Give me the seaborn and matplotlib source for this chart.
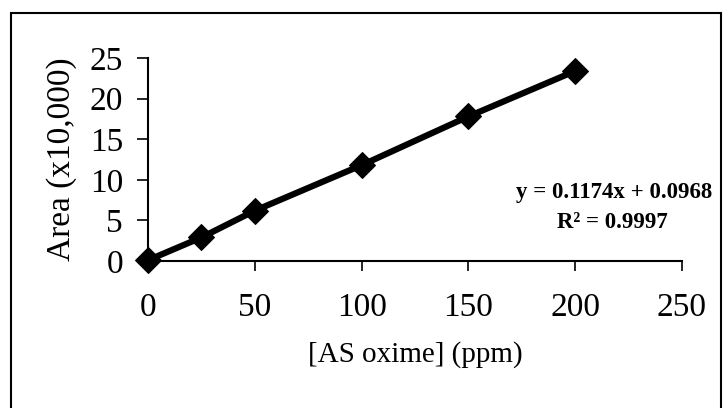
import matplotlib
matplotlib.use("Agg")
import matplotlib.pyplot as plt
import seaborn as sns
import pandas as pd
from matplotlib.patches import Rectangle

concentration = [0, 25, 50, 100, 150, 200]
area = [0.1, 2.9, 6.2, 11.8, 17.8, 23.4]
x_ticks = [0, 50, 100, 150, 200, 250]
y_ticks = [0, 5, 10, 15, 20, 25]
equation = "y = 0.1174x + 0.0968"
r_squared = "R² = 0.9997"

sns.set_theme(style="white")
plt.rcParams['font.family'] = ['Liberation Serif', 'DejaVu Serif']

df = pd.DataFrame({"conc": concentration, "area": area})

fig = plt.figure(figsize=(7.23, 4.08), dpi=100)
fig.patches.append(Rectangle((11/723, -0.05), (721-11)/723, 1 - 13/408 + 0.05,
                             transform=fig.transFigure, fill=False,
                             edgecolor="black", linewidth=1.5))
ax = fig.add_axes([148/723, 1 - 261/408, (682-148)/723, (261-58)/408])

sns.lineplot(data=df, x="conc", y="area", ax=ax, color="black", linewidth=4.5,
             marker="D", markersize=13.5, markeredgecolor="black",
             markerfacecolor="black", clip_on=False)

ax.set_xlim(0, 250)
ax.set_ylim(0, 25)
ax.set_xticks(x_ticks)
ax.set_yticks(y_ticks)
ax.tick_params(axis="x", direction="out", length=7, width=1.2, pad=16,
               labelsize=24, colors="black", bottom=True)
ax.tick_params(axis="y", direction="out", length=8, width=1.2, pad=10,
               labelsize=24, colors="black", left=True)
for s in ["top", "right"]:
    ax.spines[s].set_visible(False)
for s in ["left", "bottom"]:
    ax.spines[s].set_color("black")
    ax.spines[s].set_linewidth(1.5)

ax.set_xlabel("[AS oxime] (ppm)", fontsize=21, color="black", labelpad=13)
ax.set_ylabel("Area (x10,000)", fontsize=24, color="black", labelpad=9)

ax.text(1.056, 0.335, equation, transform=ax.transAxes, ha="right", va="center",
        fontsize=16.5, fontweight="bold", color="black")
ax.text(0.869, 0.19, r_squared, transform=ax.transAxes, ha="center", va="center",
        fontsize=16.5, fontweight="bold", color="black")

fig.savefig("out.png", dpi=100)
